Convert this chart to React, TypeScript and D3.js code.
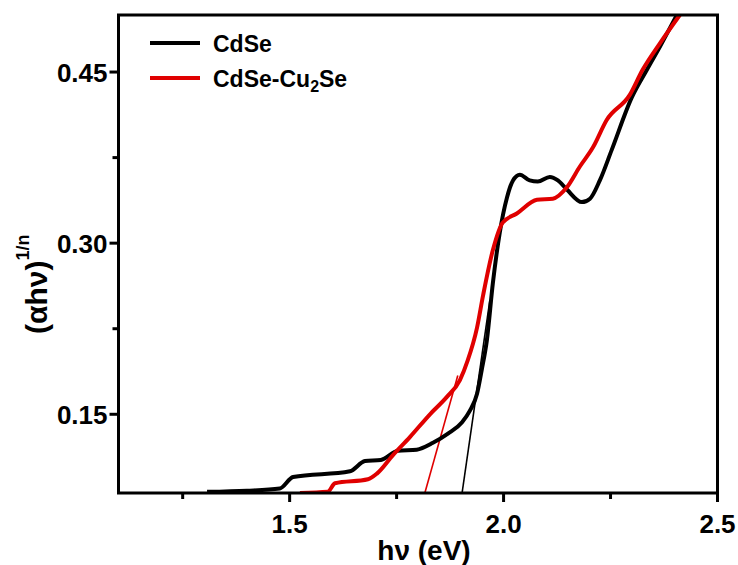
import React from 'react';
import * as d3 from 'd3';

// CdSe (black) curve
const cdseX = [1.307, 1.40, 1.477, 1.508, 1.641, 1.676, 1.713, 1.753, 1.797, 1.835, 1.870, 1.903, 1.921, 1.938, 1.949, 1.961, 1.975, 1.991, 2.008, 2.022, 2.038, 2.061, 2.080, 2.108, 2.127, 2.148, 2.183, 2.202, 2.225, 2.253, 2.300, 2.335, 2.365, 2.405];
const cdseY = [0.082, 0.083, 0.085, 0.095, 0.100, 0.109, 0.110, 0.118, 0.119, 0.125, 0.133, 0.143, 0.153, 0.168, 0.189, 0.215, 0.265, 0.309, 0.340, 0.355, 0.360, 0.355, 0.354, 0.358, 0.355, 0.347, 0.336, 0.339, 0.355, 0.382, 0.428, 0.452, 0.472, 0.500];

// CdSe-Cu2Se (red) curve
const cuX = [1.524, 1.589, 1.606, 1.683, 1.704, 1.741, 1.781, 1.828, 1.867, 1.898, 1.916, 1.938, 1.952, 1.975, 1.998, 2.031, 2.078, 2.115, 2.148, 2.178, 2.209, 2.241, 2.295, 2.325, 2.365, 2.412];
const cuY = [0.081, 0.082, 0.0895, 0.093, 0.098, 0.114, 0.130, 0.150, 0.165, 0.180, 0.197, 0.226, 0.254, 0.294, 0.318, 0.326, 0.338, 0.339, 0.349, 0.367, 0.384, 0.408, 0.430, 0.452, 0.475, 0.500];

// Tangent (band-gap extrapolation) lines
const tangentCdseX = [1.903, 1.968];
const tangentCdseY = [0.081, 0.25];
const tangentCuX = [1.816, 1.893];
const tangentCuY = [0.081, 0.184];

const xTicks = [1.5, 2.0, 2.5];
const xMinorTicks = [1.25, 1.75, 2.25];
const yTicks = [0.15, 0.30, 0.45];
const yMinorTicks = [0.225, 0.375];

const legendLabels = ['CdSe', 'CdSe-Cu'];

const W = 738;
const H = 565;
const L = 118.5, R = 717.5, T = 15, B = 493;
const FONT = "'Liberation Sans', Arial, sans-serif";

export default function App() {
  const x = d3.scaleLinear().domain([1.1, 2.5]).range([L, R]);
  const y = d3.scaleLinear().domain([0.081, 0.50]).range([B, T]);

  const line = d3
    .line<[number, number]>()
    .x((d) => x(d[0]))
    .y((d) => y(d[1]))
    .curve(d3.curveMonotoneX);
  const straight = d3
    .line<[number, number]>()
    .x((d) => x(d[0]))
    .y((d) => y(d[1]));

  const cdse = cdseX.map((v, i) => [v, cdseY[i]] as [number, number]);
  const cu = cuX.map((v, i) => [v, cuY[i]] as [number, number]);
  const tC = tangentCdseX.map((v, i) => [v, tangentCdseY[i]] as [number, number]);
  const tU = tangentCuX.map((v, i) => [v, tangentCuY[i]] as [number, number]);

  return (
    <svg
      width={W}
      height={H}
      style={{ position: 'absolute', left: 0, top: 0, background: '#fff' }}
      fontFamily={FONT}
    >
      <defs>
        <clipPath id="plot">
          <rect x={L} y={T} width={R - L} height={B - T} />
        </clipPath>
      </defs>
      <rect x={0} y={0} width={W} height={H} fill="#fff" />
      <g clipPath="url(#plot)">
        <path d={straight(tU) || ''} stroke="#e00000" strokeWidth={1.6} fill="none" />
        <path d={straight(tC) || ''} stroke="#000" strokeWidth={1.6} fill="none" />
        <path d={line(cdse) || ''} stroke="#000" strokeWidth={4} fill="none" strokeLinejoin="round" />
        <path d={line(cu) || ''} stroke="#e00000" strokeWidth={4} fill="none" strokeLinejoin="round" />
      </g>

      {/* frame */}
      <rect x={L} y={T} width={R - L} height={B - T} fill="none" stroke="#000" strokeWidth={3} />

      {/* x ticks */}
      {xTicks.map((t) => (
        <g key={'xt' + t}>
          <line x1={x(t)} x2={x(t)} y1={B} y2={B + 9} stroke="#000" strokeWidth={3} />
          <text x={x(t)} y={533} textAnchor="middle" fontSize={26} fontWeight="bold">
            {t.toFixed(1)}
          </text>
        </g>
      ))}
      {xMinorTicks.map((t) => (
        <line key={'xm' + t} x1={x(t)} x2={x(t)} y1={B} y2={B + 6} stroke="#000" strokeWidth={3} />
      ))}

      {/* y ticks */}
      {yTicks.map((t) => (
        <g key={'yt' + t}>
          <line x1={L - 9} x2={L} y1={y(t)} y2={y(t)} stroke="#000" strokeWidth={3} />
          <text x={L - 11} y={y(t) + 9.5} textAnchor="end" fontSize={26} fontWeight="bold">
            {t.toFixed(2)}
          </text>
        </g>
      ))}
      {yMinorTicks.map((t) => (
        <line key={'ym' + t} x1={L - 6} x2={L} y1={y(t)} y2={y(t)} stroke="#000" strokeWidth={3} />
      ))}

      {/* axis titles */}
      <text x={424} y={560} textAnchor="middle" fontSize={28} fontWeight="bold">
        hν (eV)
      </text>
      <g transform="translate(47,334) rotate(-90)">
        <text x={0} y={0} textAnchor="start" fontSize={30} fontWeight="bold">
          (αhν)
          <tspan fontSize={18} dy={-18}>1/n</tspan>
        </text>
      </g>

      {/* legend */}
      <line x1={150} x2={200} y1={43} y2={43} stroke="#000" strokeWidth={4} />
      <text x={213} y={51.5} fontSize={23} fontWeight="bold">{legendLabels[0]}</text>
      <line x1={150} x2={200} y1={78} y2={78} stroke="#e00000" strokeWidth={4} />
      <text x={213} y={86.5} fontSize={23} fontWeight="bold">
        {legendLabels[1]}
        <tspan fontSize={16} dy={5}>2</tspan>
        <tspan dy={-5}>Se</tspan>
      </text>
    </svg>
  );
}
